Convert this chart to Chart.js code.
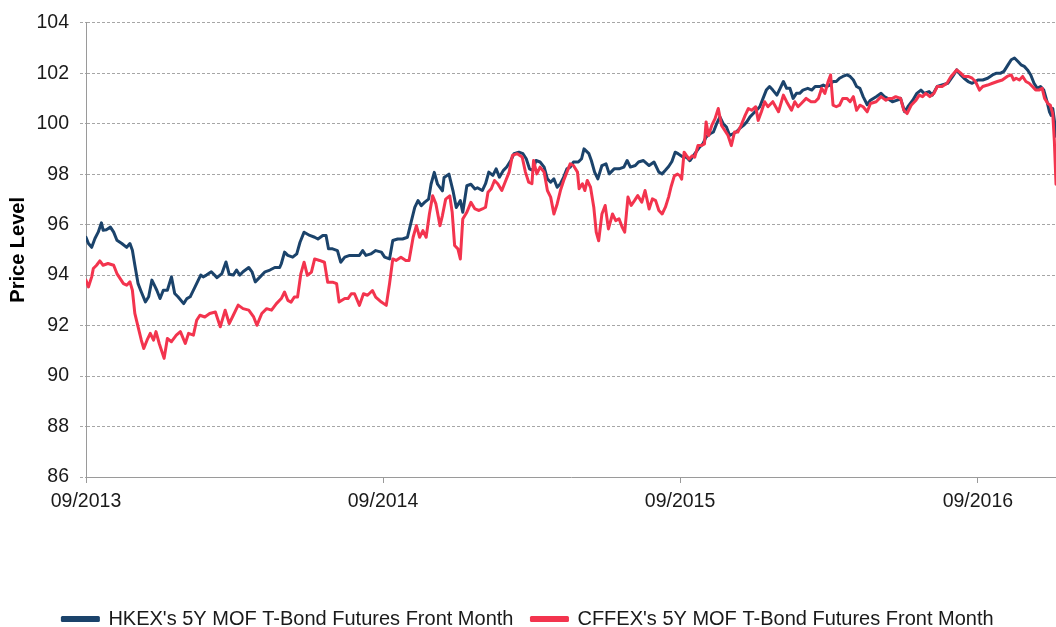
<!DOCTYPE html>
<html>
<head>
<meta charset="utf-8">
<script src="https://cdn.jsdelivr.net/npm/chart.js@4.4.1/dist/chart.umd.min.js"></script>
<style>
html,body{margin:0;padding:0;background:#fff;overflow:hidden;}
canvas{display:block;}
</style>
</head>
<body>
<canvas id="c" width="1056" height="627"></canvas>
<script>
// Days since 01/09/2013
const tickDays = [0, 365, 730, 1096];
const tickLabels = ['09/2013', '09/2014', '09/2015', '09/2016'];
const yTicksMin = 86, yTicksMax = 104, yTickStep = 2;

const hkexLabel = "HKEX's 5Y MOF T-Bond Futures Front Month";
const cffexLabel = "CFFEX's 5Y MOF T-Bond Futures Front Month";

const hkexDays = [0,3,7,11,15,19,21,25,30,34,38,44,50,54,57,60,64,68,73,77,81,84,87,91,95,100,105,109,113,120,124,128,134,138,141,144,148,154,161,167,172,176,181,185,189,193,200,204,208,214,220,226,232,238,
240,244,248,254,259,263,268,275,281,285,291,295,298,303,309,313,318,324,330,336,340,344,350,356,363,367,373,377,383,389,395,399,404,408,412,416,421,424,428,432,438,440,446,451,455,460,463,468,473,478,
481,487,491,495,500,504,508,513,517,522,526,532,537,541,545,549,553,558,563,567,571,575,579,583,587,591,595,599,605,609,612,618,621,625,629,634,639,643,649,655,661,665,669,675,679,685,692,698,704,708,712,716,720,
724,728,734,738,742,748,754,758,762,767,771,775,779,783,787,791,795,799,803,808,812,816,820,824,828,832,836,840,844,849,853,857,861,865,869,873,877,881,887,892,896,902,906,910,914,918,922,926,930,935,939,943,947,951,955,
960,964,971,977,981,985,991,997,1001,1006,1010,1016,1021,1026,1030,1036,1040,1046,1052,1059,1065,1070,1075,1079,1084,1089,1096,1102,1108,1114,1119,1124,1128,1133,1137,1141,1145,1149,1153,1157,1161,1165,1169,1173,1177,1181,1184,1186,1188,1190,1192];
const hkexValues = [95.5,95.25,95.1,95.45,95.7,96.07,95.78,95.8,95.9,95.7,95.38,95.25,95.1,95.25,94.98,94.4,93.66,93.33,92.94,93.14,93.8,93.6,93.4,93.07,93.4,93.4,93.93,93.27,93.14,92.87,93.07,93.14,93.53,93.8,94.0,93.93,94.0,94.13,93.9,94.06,94.52,94.03,94.0,94.2,94.0,94.13,94.3,94.13,93.73,93.93,94.13,94.2,94.3,94.3,
94.45,94.91,94.78,94.71,94.84,95.3,95.7,95.57,95.5,95.43,95.57,95.57,95.04,95.04,94.97,94.51,94.71,94.78,94.78,94.78,94.97,94.78,94.84,94.97,94.91,94.71,94.64,95.37,95.43,95.43,95.5,96.03,96.68,96.95,96.75,96.88,97.01,97.6,98.07,97.6,97.34,97.87,98.0,97.34,96.68,96.95,96.49,97.54,97.6,97.41,
97.46,97.35,97.62,98.08,97.95,98.21,97.88,98.15,98.28,98.54,98.81,98.87,98.81,98.61,98.21,98.15,98.54,98.48,98.28,97.81,97.68,97.81,97.48,97.62,97.88,98.21,98.28,98.48,98.48,98.61,99.0,98.81,98.54,98.08,97.81,98.34,98.41,98.01,98.21,98.21,98.28,98.54,98.28,98.34,98.48,98.54,98.34,98.48,98.08,98.01,98.15,98.3,98.5,
98.87,98.8,98.67,98.67,98.53,98.8,99.07,99.2,99.47,99.6,99.67,100.0,100.27,100.0,99.87,99.53,99.6,99.67,99.8,99.93,100.07,100.27,100.4,100.53,100.67,101.0,101.33,101.47,101.33,101.13,101.4,101.67,101.4,101.4,101.0,101.2,101.2,101.33,101.4,101.33,101.47,101.47,101.53,101.47,101.53,101.67,101.67,101.8,101.87,101.93,101.87,101.73,101.47,101.4,101.07,
100.75,100.93,101.07,101.2,101.07,101.0,100.87,100.93,101.0,100.47,100.67,100.93,101.2,101.33,101.2,101.27,101.13,101.47,101.53,101.6,101.87,102.13,101.93,101.8,101.67,101.6,101.73,101.73,101.8,101.93,102.0,102.0,102.07,102.33,102.53,102.6,102.47,102.33,102.27,102.13,101.93,101.6,101.4,101.47,101.33,100.87,100.47,100.33,100.6,100.13,99.5];

const cffexDays = [0,3,7,9,13,17,21,27,34,38,42,46,50,54,57,60,64,68,71,75,79,83,86,90,96,100,105,111,116,122,126,132,136,140,146,152,159,165,171,176,181,187,193,200,206,210,216,222,228,234,
240,244,248,252,256,260,264,268,272,277,281,287,293,297,303,308,311,318,322,326,330,336,341,346,352,356,363,369,373,377,381,387,393,397,402,406,410,414,418,422,426,430,435,438,442,447,450,453,457,460,463,468,473,478,
483,487,491,494,498,502,506,511,515,520,524,530,536,540,544,548,550,554,558,563,567,571,575,579,583,587,591,595,599,604,606,610,613,616,620,624,627,630,634,638,642,647,651,655,659,662,666,670,674,678,683,687,692,696,700,704,708,712,716,719,
723,727,730,732,735,738,741,745,748,752,756,760,762,765,769,773,777,781,785,789,793,797,801,805,810,814,818,823,826,830,834,838,844,851,857,861,867,871,875,879,885,891,896,900,904,908,912,915,918,922,926,930,935,939,943,947,951,955,
960,964,971,977,983,987,991,995,1001,1005,1009,1014,1020,1024,1028,1032,1037,1042,1046,1052,1058,1063,1070,1075,1079,1084,1089,1093,1098,1102,1108,1114,1120,1126,1132,1137,1140,1143,1147,1151,1155,1159,1163,1167,1171,1175,1178,1182,1185,1188,1190,1192];
const cffexValues = [93.8,93.53,93.93,94.26,94.39,94.56,94.39,94.46,94.39,94.06,93.86,93.66,93.6,93.73,93.4,92.48,91.95,91.42,91.09,91.42,91.69,91.42,91.76,91.29,90.7,91.49,91.36,91.62,91.76,91.29,91.69,91.62,92.21,92.41,92.34,92.48,92.54,91.95,92.61,92.08,92.41,92.81,92.67,92.61,92.34,92.01,92.48,92.67,92.61,92.87,
93.07,93.33,93.0,92.93,93.13,93.13,94.05,94.51,93.99,94.12,94.64,94.58,94.51,93.72,93.72,93.66,92.93,93.07,93.07,93.26,93.26,92.8,93.26,93.2,93.39,93.13,92.93,92.8,93.66,94.64,94.58,94.71,94.58,94.58,95.5,95.96,95.5,95.76,95.5,96.42,97.14,96.82,95.96,96.36,97.01,97.14,96.49,95.17,95.04,94.64,96.22,96.49,96.88,96.62,
96.56,96.62,96.69,97.28,97.42,97.75,97.62,97.35,97.68,98.08,98.74,98.81,98.68,98.08,97.68,97.62,98.54,98.01,98.28,98.08,97.35,97.09,96.42,96.82,97.35,97.75,98.08,98.41,98.34,98.08,97.42,97.62,97.35,97.75,97.48,96.69,95.7,95.36,96.42,96.76,95.83,96.42,96.16,96.23,95.89,95.7,97.09,96.76,96.95,97.15,96.89,97.35,96.62,97.02,96.95,96.56,96.42,96.69,97.1,97.5,
97.93,98.0,97.93,97.8,98.87,98.73,98.6,98.73,98.67,99.13,99.13,99.2,100.07,99.53,99.93,100.2,100.6,99.93,99.73,99.53,99.13,99.67,99.67,99.93,100.33,100.6,100.53,100.67,100.13,100.47,100.87,100.67,100.87,100.47,101.13,100.87,100.53,100.87,100.67,100.8,101.0,100.87,100.87,101.0,101.4,101.2,101.67,101.93,100.73,100.67,100.73,101.0,101.0,100.87,101.07,100.53,100.73,100.67,
100.47,100.8,100.87,101.07,100.93,101.0,101.0,101.07,101.0,100.53,100.4,100.73,100.93,101.13,101.07,101.2,101.07,101.2,101.47,101.47,101.6,101.87,102.13,102.0,101.87,101.87,101.8,101.67,101.33,101.47,101.53,101.6,101.67,101.73,101.87,101.93,101.73,101.8,101.73,101.87,101.67,101.6,101.47,101.33,101.33,101.4,101.0,100.8,100.73,100.4,99.3,97.6];

const FONT = "'Liberation Sans', Arial, Helvetica, sans-serif";
const GRID = '#a6a6a6';
const AXIS = '#9a9a9a';
const TXT = '#1a1a1a';

function pts(xs, ys){ return xs.map((x,i)=>({x:x, y:ys[i]})); }

const legendShift = {
  id: 'legendShift',
  afterLayout(chart){
    const l = chart.legend;
    if (l) { l.top += 12; l.bottom += 12; }
  }
};

new Chart(document.getElementById('c'), {
  type: 'line',
  data: {
    datasets: [
      { label: hkexLabel, data: pts(hkexDays, hkexValues), borderColor: '#1b436b', backgroundColor: '#1b436b',
        borderWidth: 3, pointRadius: 0, tension: 0, order: 1, borderJoinStyle: 'round', borderCapStyle: 'round' },
      { label: cffexLabel, data: pts(cffexDays, cffexValues), borderColor: '#f3344e', backgroundColor: '#f3344e',
        borderWidth: 3, pointRadius: 0, tension: 0, order: 0, borderJoinStyle: 'round', borderCapStyle: 'round' }
    ]
  },
  options: {
    responsive: false,
    animation: false,
    devicePixelRatio: 1,
    layout: { padding: { top: 22, right: 0, bottom: 0, left: 0 } },
    plugins: {
      tooltip: { enabled: false },
      legend: {
        position: 'bottom',
        labels: {
          font: { family: FONT, size: 20 },
          color: TXT,
          boxWidth: 36,
          boxHeight: 3,
          padding: 18,
          sort: (a, b) => a.datasetIndex - b.datasetIndex
        }
      }
    },
    scales: {
      x: {
        type: 'linear',
        min: 0,
        max: 1192,
        afterBuildTicks(scale){ scale.ticks = tickDays.map(v => ({ value: v })); },
        afterFit(scale){ scale.height = 102; },
        ticks: {
          autoSkip: false,
          maxRotation: 0,
          includeBounds: false,
          padding: 7,
          font: { family: FONT, size: 19.5 },
          color: TXT,
          callback: (v) => { const i = tickDays.indexOf(v); return i >= 0 ? tickLabels[i] : ''; }
        },
        grid: { display: true, drawOnChartArea: false, drawTicks: true, tickLength: 6, color: AXIS },
        border: { display: true, color: AXIS, width: 1 }
      },
      y: {
        min: yTicksMin,
        max: yTicksMax,
        afterFit(scale){ scale.width = 86; },
        ticks: {
          stepSize: yTickStep,
          padding: 11,
          font: { family: FONT, size: 19.5 },
          color: TXT
        },
        grid: { color: GRID, lineWidth: 1, tickLength: 6, tickBorderDash: [3, 2] },
        border: { display: true, color: AXIS, width: 1, dash: [3, 2] },
        title: {
          display: true,
          text: 'Price Level',
          font: { family: FONT, size: 20, weight: 'bold' },
          color: '#000',
          padding: { top: 6, bottom: 0 }
        }
      }
    }
  },
  plugins: [legendShift]
});
</script>
</body>
</html>
